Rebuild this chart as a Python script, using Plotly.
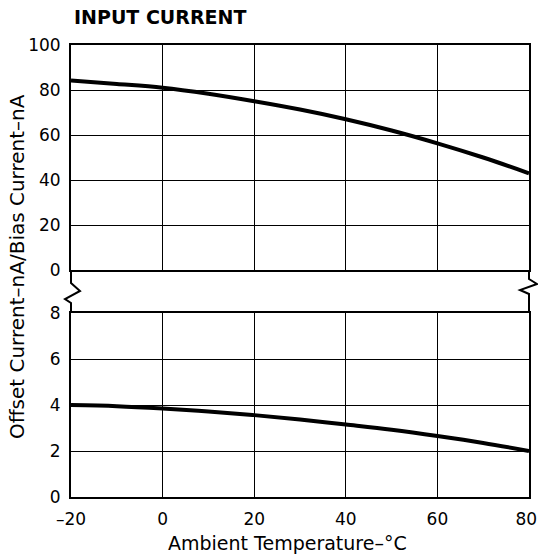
import plotly.graph_objects as go

# Data
temps_bias = [-20, -10, 0, 10, 20, 30, 40, 50, 60, 70, 80]
bias_current = [84.2, 82.7, 81.0, 78.3, 75.0, 71.3, 67.0, 62.0, 56.3, 50.0, 43.0]
temps_offset = [-20, -10, 0, 10, 20, 30, 40, 50, 60, 70, 80]
offset_current = [4.0, 3.95, 3.85, 3.72, 3.56, 3.37, 3.15, 2.92, 2.65, 2.35, 2.0]
x_ticks = [-20, 0, 20, 40, 60, 80]
x_ticklabels = ["\u201320", "0", "20", "40", "60", "80\u00a0"]
top_ticks = [0, 20, 40, 60, 80, 100]
bottom_ticks = [0, 2, 4, 6, 8]

FONT = "DejaVu Sans, Liberation Sans, Arial, sans-serif"
W, H = 538, 559
# plot area in screen pixels: left 71, right 529, top 45, bottom 497
ML, MT = 71, 45
MR = W - 529
MB = H - 497
PW, PH = W - ML - MR, H - MT - MB

def px(sx):
    return (sx - ML) / PW

def py(sy):
    return (H - MB - sy) / PH

top_dom = [py(270), 1.0]
bot_dom = [0.0, py(313)]

fig = go.Figure()
fig.add_trace(go.Scatter(x=temps_bias, y=bias_current, mode="lines", line=dict(color="black", width=4, shape="spline"),
                         xaxis="x2", yaxis="y2", showlegend=False, hoverinfo="skip"))
fig.add_trace(go.Scatter(x=temps_offset, y=offset_current, mode="lines", line=dict(color="black", width=4, shape="spline"),
                         xaxis="x", yaxis="y", showlegend=False, hoverinfo="skip"))

axis_common = dict(showline=True, linecolor="black", linewidth=2, mirror=True,
                   showgrid=True, gridcolor="black", gridwidth=1.3,
                   zeroline=True, zerolinecolor="black", zerolinewidth=1.3,
                   automargin=False,
                   ticks="", tickfont=dict(family=FONT, size=17, color="black"))

fig.update_layout(
    width=W, height=H,
    margin=dict(l=ML, r=MR, t=MT, b=MB),
    paper_bgcolor="white", plot_bgcolor="white",
    font=dict(family=FONT, color="black"),
    xaxis=dict(range=[-20, 80], tickvals=x_ticks, ticktext=x_ticklabels, anchor="y",
               ticklabelstandoff=6, ticklabeloverflow="allow", **axis_common),
    yaxis=dict(range=[0, 8], tickvals=bottom_ticks, domain=bot_dom, anchor="x",
               ticklabelstandoff=5, **axis_common),
    xaxis2=dict(range=[-20, 80], tickvals=x_ticks, showticklabels=False, anchor="y2", **axis_common),
    yaxis2=dict(range=[0, 100], tickvals=top_ticks, domain=top_dom, anchor="x2",
                ticklabelstandoff=5, **axis_common),
)

# title
fig.add_annotation(text="<b>INPUT CURRENT</b>", xref="paper", yref="paper", x=px(72), y=py(17),
                   xanchor="left", yanchor="middle", showarrow=False,
                   font=dict(family=FONT, size=19, color="black"))
# x title
fig.add_annotation(text="Ambient Temperature\u2013\u00b0C", xref="paper", yref="paper",
                   x=px(287), y=py(543), xanchor="center", yanchor="middle", showarrow=False,
                   font=dict(family=FONT, size=19, color="black"))
# y title
fig.add_annotation(text="Offset Current\u2013nA/Bias Current\u2013nA", xref="paper", yref="paper",
                   x=px(17), y=py(267), textangle=-90, xanchor="center", yanchor="middle", showarrow=False,
                   font=dict(family=FONT, size=20, color="black"))

# axis break lines with zigzags
def break_path(xc, pts):
    d = f"M {px(xc)} {py(270)}"
    for (a, b) in pts:
        d += f" L {px(a)} {py(b)}"
    d += f" L {px(xc)} {py(313)}"
    return d

fig.add_shape(type="path", xref="paper", yref="paper",
              path=break_path(71, [(71, 283), (80, 291), (65, 299), (71, 303)]),
              line=dict(color="black", width=2))
fig.add_shape(type="path", xref="paper", yref="paper",
              path=break_path(529, [(529, 279), (537, 284), (520, 290), (529, 294)]),
              line=dict(color="black", width=2))

fig.write_html("out.html", config={"displayModeBar": False},
               post_script="document.body.style.margin='0';document.body.style.overflow='hidden';")
